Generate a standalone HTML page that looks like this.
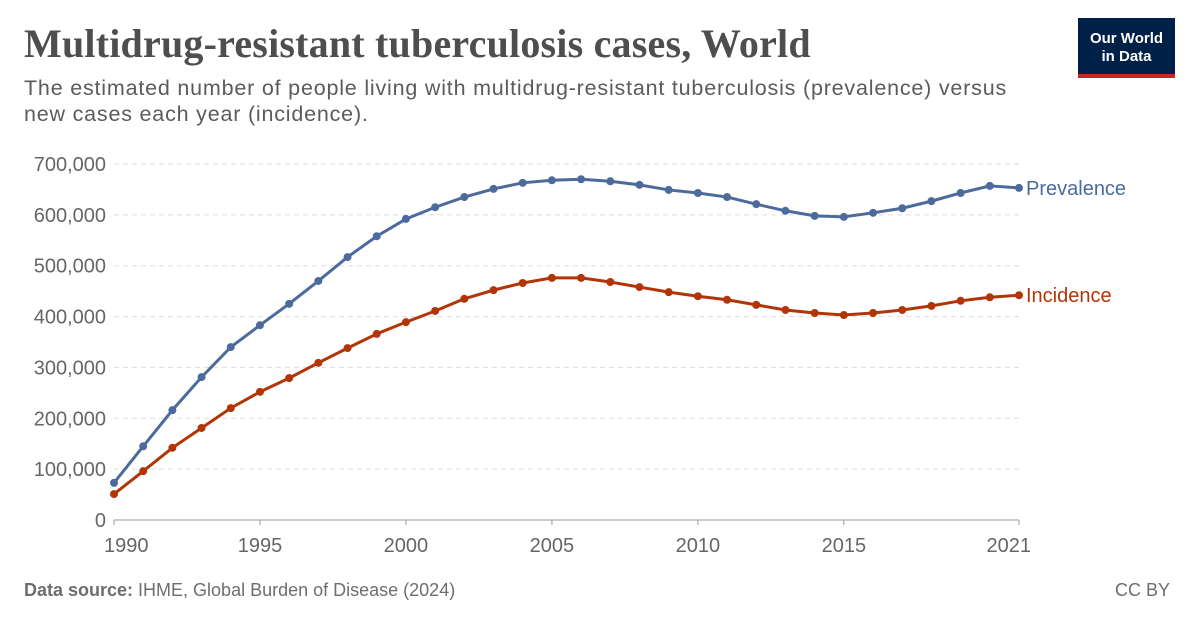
<!DOCTYPE html>
<html><head><meta charset="utf-8">
<style>
body{margin:0;width:1200px;height:627px;background:#fff;font-family:"Liberation Sans",sans-serif;overflow:hidden;position:relative}
.t{position:absolute;left:24px;top:20px;font-family:"Liberation Serif",serif;font-weight:bold;font-size:40px;color:#4e4e4e;margin:0;letter-spacing:0.2px}
.s{position:absolute;left:24px;top:75px;font-size:21.5px;line-height:26px;color:#5b5b5b;width:1005px;letter-spacing:0.8px}
.logo{position:absolute;left:1078px;top:18px;width:97px;height:60px;background:#002147;color:#fff;font-size:15px;line-height:18px;text-align:center;box-sizing:border-box;padding-top:12px;border-bottom:4px solid #ce261e;font-weight:bold}
.f{position:absolute;top:580px;font-size:18px;color:#6e6e6e}
</style></head><body>
<h1 class="t">Multidrug-resistant tuberculosis cases, World</h1>
<div class="s">The estimated number of people living with multidrug-resistant tuberculosis (prevalence) versus new cases each year (incidence).</div>
<div class="logo">Our World<br>in Data</div>
<svg id="c" width="1200" height="627" style="position:absolute;left:0;top:0"></svg>
<div class="f" style="left:24px"><b>Data source:</b> IHME, Global Burden of Disease (2024)</div>
<div class="f" style="right:30px">CC BY</div>
<script>
const years=[1990,1991,1992,1993,1994,1995,1996,1997,1998,1999,2000,2001,2002,2003,2004,2005,2006,2007,2008,2009,2010,2011,2012,2013,2014,2015,2016,2017,2018,2019,2020,2021];
const prevalence=[73,145,216,281,340,383,425,470,517,558,592,615,635,651,663,668,670,666,659,649,643,635,621,608,598,596,604,613,627,643,657,653];
const incidence=[51,96,142,181,220,252,279,309,338,366,389,411,435,452,466,476,476,468,458,448,440,433,423,413,407,403,407,413,421,431,438,442];
const yTicks=[0,100,200,300,400,500,600,700];
const yTickLabels=["0","100,000","200,000","300,000","400,000","500,000","600,000","700,000"];
const xTicks=[1990,1995,2000,2005,2010,2015,2021];
const NS="http://www.w3.org/2000/svg";
const svg=document.getElementById('c');
const x=v=>114+(v-1990)*(1019-114)/31;
const y=v=>520-v*(520-164)/700;
function mk(t,a){const e=document.createElementNS(NS,t);for(const k in a)e.setAttribute(k,a[k]);svg.appendChild(e);return e;}
yTicks.forEach((v,i)=>{
 if(v>0){const l=mk('line',{x1:114,x2:1019,y1:y(v),y2:y(v),stroke:'#ddd','stroke-dasharray':'5,4'});
 
 }
 const t=mk('text',{x:106,y:y(v)+7,'text-anchor':'end','font-size':20,fill:'#666'});t.textContent=yTickLabels[i];
 
 
});
const ax=mk('line',{x1:114,x2:1019,y1:520,y2:520,stroke:'#999'});


xTicks.forEach(v=>{
 mk('line',{x1:x(v),x2:x(v),y1:520,y2:525,stroke:'#999'});
 const t=mk('text',{x:x(v),y:552,'text-anchor':v==1990?'start':(v==2021?'end':'middle'),'font-size':20,fill:'#666'});
 if(v==1990)t.setAttribute('x',x(v)-10);
 if(v==2021)t.setAttribute('x',x(v)+12);
 t.textContent=v;
 
 
});
function series(vals,col,name,label){
 const p=mk('polyline',{points:vals.map((v,i)=>x(years[i])+','+y(v)).join(' '),fill:'none',stroke:col,'stroke-width':3});
 
 
 vals.forEach((v,i)=>{const c=mk('circle',{cx:x(years[i]),cy:y(v),r:4,fill:col});
 
 });
 const t=mk('text',{x:1026,y:y(vals[vals.length-1])+7,'font-size':20,fill:col});t.textContent=label;
 
 
}
series(prevalence,'#4c6a9c','prevalence','Prevalence');
series(incidence,'#b13507','incidence','Incidence');
</script>
</body></html>
